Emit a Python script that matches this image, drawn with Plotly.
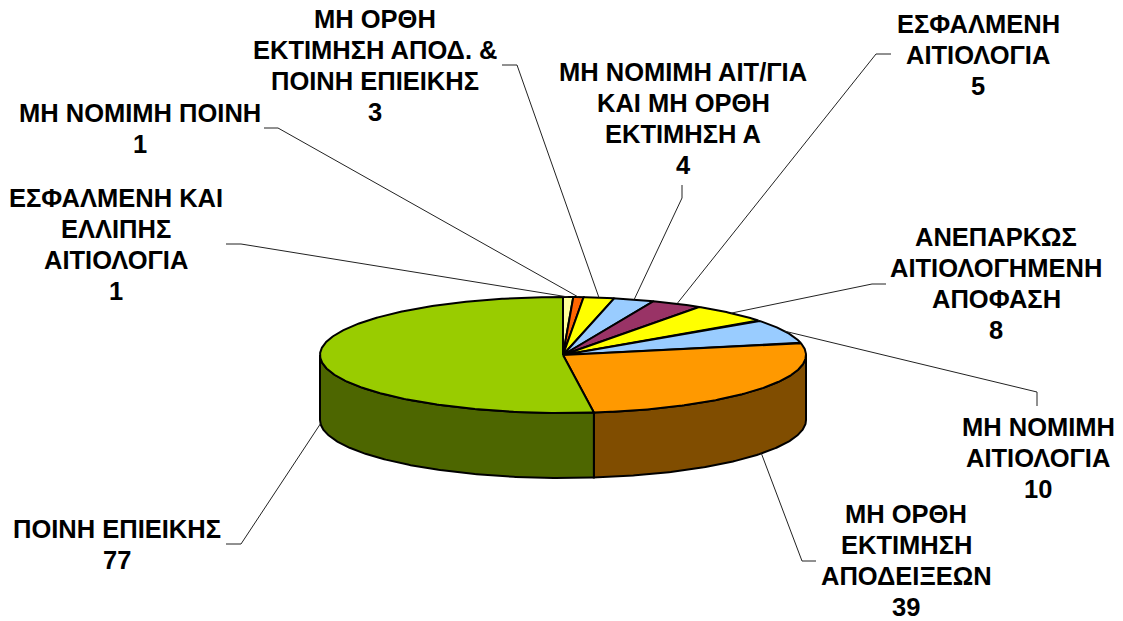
import math
import plotly.graph_objects as go

# --- data, clockwise from 12 o'clock ---
categories = [
    "ΕΣΦΑΛΜΕΝΗ ΚΑΙ|ΕΛΛΙΠΗΣ|ΑΙΤΙΟΛΟΓΙΑ",
    "ΜΗ ΝΟΜΙΜΗ ΠΟΙΝΗ",
    "ΜΗ ΟΡΘΗ|ΕΚΤΙΜΗΣΗ ΑΠΟΔ. &|ΠΟΙΝΗ ΕΠΙΕΙΚΗΣ",
    "ΜΗ ΝΟΜΙΜΗ ΑΙΤ/ΓΙΑ|ΚΑΙ ΜΗ ΟΡΘΗ|ΕΚΤΙΜΗΣΗ Α",
    "ΕΣΦΑΛΜΕΝΗ|ΑΙΤΙΟΛΟΓΙΑ",
    "ΑΝΕΠΑΡΚΩΣ|ΑΙΤΙΟΛΟΓΗΜΕΝΗ|ΑΠΟΦΑΣΗ",
    "ΜΗ ΝΟΜΙΜΗ|ΑΙΤΙΟΛΟΓΙΑ",
    "ΜΗ ΟΡΘΗ|ΕΚΤΙΜΗΣΗ|ΑΠΟΔΕΙΞΕΩΝ",
    "ΠΟΙΝΗ ΕΠΙΕΙΚΗΣ",
]
values = [1, 1, 3, 4, 5, 8, 10, 39, 77]

# --- styles ---
top_colors = ["#FFFF99", "#FF6600", "#FFFF00", "#99CCFF", "#993366",
              "#FFFF00", "#99CCFF", "#FF9900", "#99CC00"]
side_colors = ["#80804D", "#803300", "#808000", "#4D6680", "#4D1A33",
               "#808000", "#4D6680", "#804D00", "#4D6600"]

# --- layout of the pie, in page pixels ---
W, H = 1123, 621
CX, CY, RX, RY, DEPTH = 563, 355, 243, 58, 65
FONT_SIZE = 25.5
LINE_GAP = 31.3

# label centre (x, y of first line) and leader elbow points for each slice
label_xy = [(116, 197.5), (140, 112.5), (375, 18.5), (683, 71.5), (978, 23.5),
            (996, 236.5), (1038, 426.5), (906, 513.5), (117, 528.5)]
leader_pts = [
    [(226, 244), (241, 244)],
    [(264, 128), (278, 128)],
    [(502, 65), (517, 65)],
    [(682, 185), (682, 198)],
    [(891, 54), (876, 54)],
    [(886, 284), (872, 284)],
    [(1037, 406), (1037, 392)],
    [(816, 561), (802, 561)],
    [(226, 544), (241, 544)],
]


def rim(deg, drop=0.0):
    a = math.radians(deg)
    return CX + RX * math.sin(a), CY - RY * math.cos(a) + drop


def arc(a0, a1, drop=0.0):
    n = max(2, int(abs(a1 - a0) * 2))
    return [rim(a0 + (a1 - a0) * i / n, drop) for i in range(n + 1)]


total = sum(values)
bounds = [0.0]
for v in values:
    bounds.append(bounds[-1] + v / total * 360)

fig = go.Figure()


def poly(pts, fill):
    fig.add_trace(go.Scatter(
        x=[p[0] for p in pts], y=[p[1] for p in pts], mode="lines",
        fill="toself", fillcolor=fill,
        line=dict(color="#000000", width=2), hoverinfo="skip", showlegend=False))


# sides (only the front half of the rim is visible)
for i in range(len(values)):
    a0, a1 = max(bounds[i], 90), min(bounds[i + 1], 270)
    if a1 > a0:
        top = arc(a0, a1)
        bot = arc(a1, a0, DEPTH)
        poly(top + bot + [top[0]], side_colors[i])

# top faces
for i in range(len(values)):
    poly([(CX, CY)] + arc(bounds[i], bounds[i + 1]) + [(CX, CY)], top_colors[i])

# leaders and labels
annotations = []
for i, cat in enumerate(categories):
    mid = (bounds[i] + bounds[i + 1]) / 2
    end = rim(mid, DEPTH if 90 < mid < 270 else 0)
    pts = leader_pts[i] + [end]
    fig.add_trace(go.Scatter(
        x=[p[0] for p in pts], y=[p[1] for p in pts], mode="lines",
        line=dict(color="#222222", width=1), hoverinfo="skip", showlegend=False))
    lines = cat.split("|") + [str(values[i])]
    lx, ly = label_xy[i]
    for j, txt in enumerate(lines):
        annotations.append(dict(
            x=lx, y=ly + j * LINE_GAP, xref="x", yref="y", text="<b>%s</b>" % txt,
            showarrow=False, xanchor="center", yanchor="middle",
            font=dict(family="Liberation Sans", size=FONT_SIZE, color="#000000")))

fig.update_layout(
    width=W, height=H, margin=dict(l=0, r=0, t=0, b=0),
    paper_bgcolor="#FFFFFF", plot_bgcolor="#FFFFFF", showlegend=False,
    xaxis=dict(range=[0, W], visible=False, fixedrange=True),
    yaxis=dict(range=[H, 0], visible=False, fixedrange=True),
    annotations=annotations,
)
fig.write_html("out.html", config={"displayModeBar": False},
               post_script="document.body.style.margin='0';")
